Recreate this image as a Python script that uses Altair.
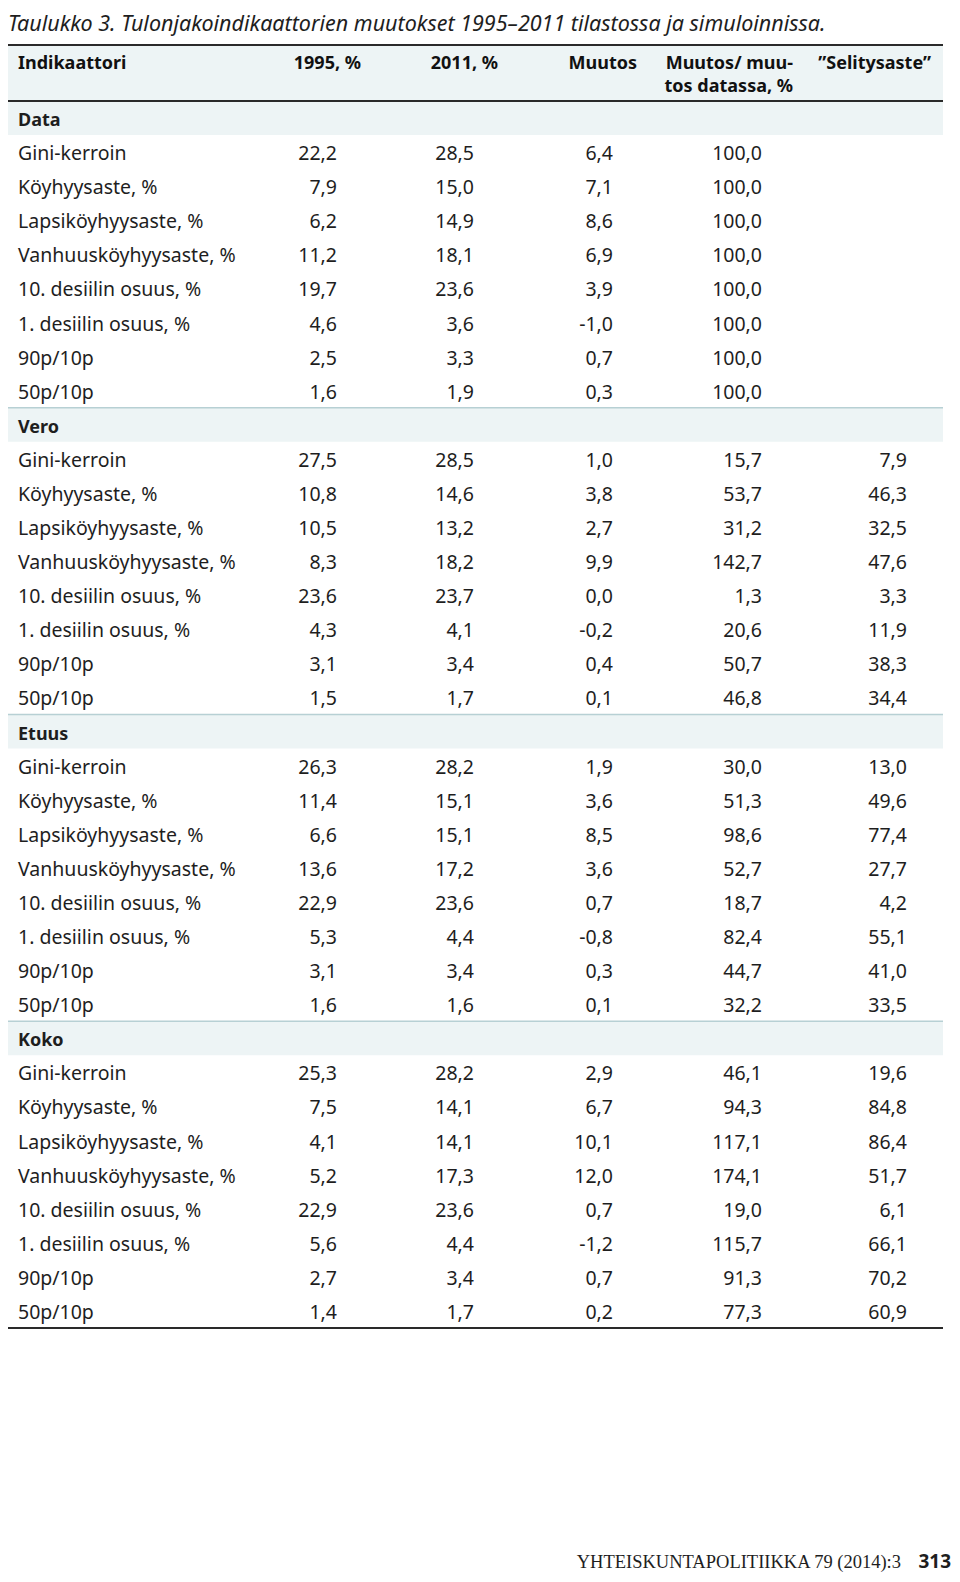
import altair as alt
import pandas as pd

title_text = "Taulukko 3. Tulonjakoindikaattorien muutokset 1995–2011 tilastossa ja simuloinnissa."
footer_text = "YHTEISKUNTAPOLITIIKKA 79 (2014):3"
page_number = "313"

header_line1 = ["Indikaattori", "1995, %", "2011, %", "Muutos", "Muutos/ muu-", "”Selitysaste”"]
header_line2 = ["", "", "", "", "tos datassa, %", ""]

sections = ["Data", "Vero", "Etuus", "Koko"]
indicators = ["Gini-kerroin", "Köyhyysaste, %", "Lapsiköyhyysaste, %", "Vanhuusköyhyysaste, %",
              "10. desiilin osuus, %", "1. desiilin osuus, %", "90p/10p", "50p/10p"]

data_1995 = [22.2, 7.9, 6.2, 11.2, 19.7, 4.6, 2.5, 1.6]
data_2011 = [28.5, 15.0, 14.9, 18.1, 23.6, 3.6, 3.3, 1.9]
data_muutos = [6.4, 7.1, 8.6, 6.9, 3.9, -1.0, 0.7, 0.3]
data_suhde = [100.0, 100.0, 100.0, 100.0, 100.0, 100.0, 100.0, 100.0]
data_selitys = [None, None, None, None, None, None, None, None]

vero_1995 = [27.5, 10.8, 10.5, 8.3, 23.6, 4.3, 3.1, 1.5]
vero_2011 = [28.5, 14.6, 13.2, 18.2, 23.7, 4.1, 3.4, 1.7]
vero_muutos = [1.0, 3.8, 2.7, 9.9, 0.0, -0.2, 0.4, 0.1]
vero_suhde = [15.7, 53.7, 31.2, 142.7, 1.3, 20.6, 50.7, 46.8]
vero_selitys = [7.9, 46.3, 32.5, 47.6, 3.3, 11.9, 38.3, 34.4]

etuus_1995 = [26.3, 11.4, 6.6, 13.6, 22.9, 5.3, 3.1, 1.6]
etuus_2011 = [28.2, 15.1, 15.1, 17.2, 23.6, 4.4, 3.4, 1.6]
etuus_muutos = [1.9, 3.6, 8.5, 3.6, 0.7, -0.8, 0.3, 0.1]
etuus_suhde = [30.0, 51.3, 98.6, 52.7, 18.7, 82.4, 44.7, 32.2]
etuus_selitys = [13.0, 49.6, 77.4, 27.7, 4.2, 55.1, 41.0, 33.5]

koko_1995 = [25.3, 7.5, 4.1, 5.2, 22.9, 5.6, 2.7, 1.4]
koko_2011 = [28.2, 14.1, 14.1, 17.3, 23.6, 4.4, 3.4, 1.7]
koko_muutos = [2.9, 6.7, 10.1, 12.0, 0.7, -1.2, 0.7, 0.2]
koko_suhde = [46.1, 94.3, 117.1, 174.1, 19.0, 115.7, 91.3, 77.3]
koko_selitys = [19.6, 84.8, 86.4, 51.7, 6.1, 66.1, 70.2, 60.9]

section_values = {
    "Data": [data_1995, data_2011, data_muutos, data_suhde, data_selitys],
    "Vero": [vero_1995, vero_2011, vero_muutos, vero_suhde, vero_selitys],
    "Etuus": [etuus_1995, etuus_2011, etuus_muutos, etuus_suhde, etuus_selitys],
    "Koko": [koko_1995, koko_2011, koko_muutos, koko_suhde, koko_selitys],
}


def fi(v):
    return f"{v:.1f}".replace(".", ",")


# ---- build tables
label_rows, value_rows, section_rows = [], [], []
row = 0
for s in sections:
    section_rows.append({"row": row, "label": s, "y0": row - 0.5, "y1": row + 0.5})
    row += 1
    cols = section_values[s]
    for i, ind in enumerate(indicators):
        label_rows.append({"row": row, "label": ind})
        for c, series in enumerate(cols):
            v = series[i]
            if v is not None:
                value_rows.append({"row": row, "col": c + 1, "txt": fi(v)})
        row += 1
n_rows = row

label_df = pd.DataFrame(label_rows)
value_df = pd.DataFrame(value_rows)
section_df = pd.DataFrame(section_rows)

header_top = -2.143
header_df = pd.DataFrame(
    [{"col": i, "txt": t, "row": -1.44} for i, t in enumerate(header_line1)]
    + [{"col": i, "txt": t, "row": -0.76} for i, t in enumerate(header_line2) if t]
)
band_df = pd.concat([
    pd.DataFrame([{"y0": header_top, "y1": -0.5}]),
    section_df[["y0", "y1"]],
], ignore_index=True)
band_df["xa"] = -1
band_df["xb"] = 6

dark_rules = pd.DataFrame({"y": [header_top, -0.5, n_rows - 0.5], "xa": -1, "xb": 6})
light_rules = pd.DataFrame({"y": [r["y0"] for r in section_rows[1:]], "xa": -1, "xb": 6})

title_df = pd.DataFrame([{"txt": title_text, "row": -2.55, "col": -1}])
footer_df = pd.DataFrame([{"txt": footer_text, "row": 42.54, "col": 6}])
page_df = pd.DataFrame([{"txt": page_number, "row": 42.54, "col": 6}])

# ---- scales
X = alt.Scale(domain=[-1, 0, 1, 2, 3, 4, 5, 6], range=[0, 10, 329, 466, 605, 754, 899, 935])
Y = alt.Scale(domain=[-0.5, n_rows - 0.5], range=[93, 1320], zero=False, nice=False)

def xq(f):
    return alt.X(f, type="quantitative", scale=X, axis=None)

def yq(f):
    return alt.Y(f, type="quantitative", scale=Y, axis=None)

INK = "#1e1e1e"
BODY = "Noto Sans"
BAND = "#edf4f5"
FS = 19.5

bands = alt.Chart(band_df).mark_rect(color=BAND).encode(
    x=xq("xa"), x2="xb", y=yq("y0"), y2="y1")

rules_dark = alt.Chart(dark_rules).mark_rule(color="#2a2a2a", strokeWidth=2).encode(
    x=xq("xa"), x2="xb", y=yq("y"))
rules_light = alt.Chart(light_rules).mark_rule(color="#b7d0d4", strokeWidth=1.5).encode(
    x=xq("xa"), x2="xb", y=yq("y"))

labels = alt.Chart(label_df).mark_text(
    align="left", baseline="alphabetic", dy=8, font=BODY, fontSize=FS, color=INK
).encode(x=alt.X("x:Q", scale=X, axis=None), y=yq("row"), text="label:N").transform_calculate(x="0")

sec_labels = alt.Chart(section_df).mark_text(
    align="left", baseline="alphabetic", dy=8, font=BODY, fontSize=18, fontWeight="bold", color=INK
).encode(x=alt.X("x:Q", scale=X, axis=None), y=yq("row"), text="label:N").transform_calculate(x="0")

values = alt.Chart(value_df).mark_text(
    align="right", baseline="alphabetic", dy=8, font=BODY, fontSize=FS, color=INK
).encode(x=xq("col"), y=yq("row"), text="txt:N")

hdr_left = alt.Chart(header_df).transform_filter("datum.col == 0").mark_text(
    align="left", baseline="alphabetic", font=BODY, fontSize=18, fontWeight="bold", color="#111"
).encode(x=xq("col"), y=yq("row"), text="txt:N")
hdr_a = alt.Chart(header_df).transform_filter("datum.col > 0 && datum.col != 4").mark_text(
    align="right", baseline="alphabetic", dx=24, font=BODY, fontSize=18, fontWeight="bold", color="#111"
).encode(x=xq("col"), y=yq("row"), text="txt:N")
hdr_b = alt.Chart(header_df).transform_filter("datum.col == 4").mark_text(
    align="right", baseline="alphabetic", dx=31, font=BODY, fontSize=18, fontWeight="bold", color="#111"
).encode(x=xq("col"), y=yq("row"), text="txt:N")

title = alt.Chart(title_df).mark_text(
    align="left", baseline="alphabetic", font=BODY, fontSize=21.5, fontStyle="italic", color=INK
).encode(x=xq("col"), y=yq("row"), text="txt:N")

footer = alt.Chart(footer_df).mark_text(
    align="right", baseline="alphabetic", dx=-42, font="Liberation Serif", fontSize=18.5, color=INK
).encode(x=xq("col"), y=yq("row"), text="txt:N")
page = alt.Chart(page_df).mark_text(
    align="right", baseline="alphabetic", dx=8, font=BODY, fontSize=19, fontWeight="bold", color=INK
).encode(x=xq("col"), y=yq("row"), text="txt:N")

chart = alt.layer(
    bands, rules_light, rules_dark, labels, sec_labels, values,
    hdr_left, hdr_a, hdr_b, title, footer, page
).properties(
    width=944, height=1566, autosize=alt.AutoSizeParams(type="none"), padding=0
).configure_view(stroke=None)

chart.save("out.html", embed_options={"renderer": "svg", "actions": False})
